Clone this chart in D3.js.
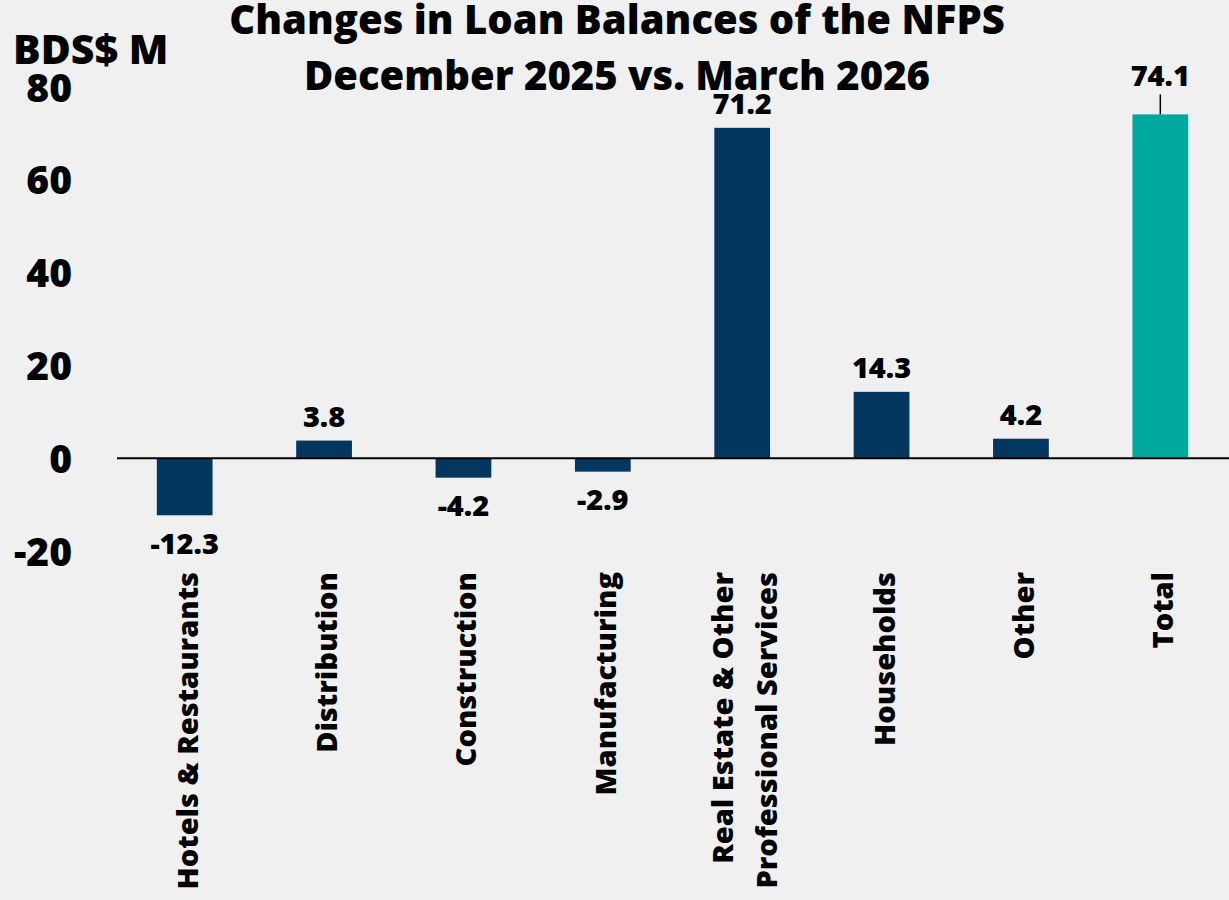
<!DOCTYPE html>
<html>
<head>
<meta charset="utf-8">
<script src="https://cdn.jsdelivr.net/npm/d3@7"></script>
<style>
  html, body { margin: 0; padding: 0; background: #f0f0f0; }
  svg { display: block; }
  text { font-family: "Open Sans", "Noto Sans", sans-serif; font-weight: 760; fill: #000; }
</style>
</head>
<body>
<svg id="chart" width="1229" height="900"></svg>
<script>
// Sector categories (second line of a label after "\n")
const categories = [
  "Hotels & Restaurants",
  "Distribution",
  "Construction",
  "Manufacturing",
  "Real Estate & Other\nProfessional Services",
  "Households",
  "Other",
  "Total"
];
// Change in loan balances, BDS$ millions
const changes = [-12.3, 3.8, -4.2, -2.9, 71.2, 14.3, 4.2, 74.1];
const yTicks = [-20, 0, 20, 40, 60, 80];
const titleLines = ["Changes in Loan Balances of the NFPS", "December 2025 vs. March 2026"];
const unitLabel = "BDS$ M";

const navy = "#03375f";
const teal = "#00a99e";

// plain hyphen for negatives
const fmt1 = v => d3.format(".1f")(v).replace("\u2212", "-");
const fmt0 = v => d3.format("d")(v).replace("\u2212", "-");

const svg = d3.select("#chart");

const x = d3.scaleBand()
  .domain(categories)
  .range([115, 1230])
  .paddingInner(0.6)
  .paddingOuter(0.3);

const y = d3.scaleLinear()
  .domain([-20, 80])
  .range([551, 87]);

// Y axis labels (no axis line)
const yAxis = d3.axisLeft(y).tickValues(yTicks).tickSize(0).tickPadding(0)
  .tickFormat(fmt0);
const gy = svg.append("g").attr("transform", "translate(72,0)").call(yAxis);
gy.select(".domain").remove();
gy.selectAll("text")
  .attr("text-anchor", "end")
  .attr("dy", "0.36em")
  .style("font-size", "39px")
  .style("font-family", "'Open Sans', sans-serif")
  .style("font-weight", 760)
  .attr("fill", "#000");

// Bars
svg.append("g").selectAll("rect")
  .data(categories)
  .join("rect")
  .attr("x", d => x(d))
  .attr("width", x.bandwidth())
  .attr("y", (d, i) => y(Math.max(0, changes[i])))
  .attr("height", (d, i) => Math.abs(y(changes[i]) - y(0)))
  .attr("fill", (d, i) => d === "Total" ? teal : navy);

// Zero line
svg.append("line")
  .attr("x1", x.range()[0] + 2).attr("x2", x.range()[1])
  .attr("y1", y(0)).attr("y2", y(0))
  .attr("stroke", "#000").attr("stroke-width", 2);

// Value labels
const labels = svg.append("g");
categories.forEach((c, i) => {
  const v = changes[i];
  const cx = x(c) + x.bandwidth() / 2;
  const isTotal = c === "Total";
  const lift = isTotal ? 28 : 14;
  const ty = v >= 0 ? y(v) - lift : y(v) + 14;
  labels.append("text")
    .attr("x", cx)
    .attr("y", ty)
    .attr("text-anchor", "middle")
    .attr("dominant-baseline", v >= 0 ? "auto" : "hanging")
    .style("font-size", "29px")
    .text(fmt1(v));
  if (isTotal) {
    labels.append("line")
      .attr("x1", cx).attr("x2", cx)
      .attr("y1", y(v) - 20).attr("y2", y(v))
      .attr("stroke", "#000").attr("stroke-width", 1.5);
  }
});

// Category labels, rotated
const xl = svg.append("g");
categories.forEach(c => {
  const lines = c.split("\n");
  const cx = x(c) + x.bandwidth() / 2;
  const lh = 44;
  lines.forEach((ln, k) => {
    const off = (k - (lines.length - 1) / 2) * lh;
    xl.append("text")
      .attr("transform", `translate(${cx + off + 13},572) rotate(-90)`)
      .attr("text-anchor", "end")
      .style("font-size", "29px")
      .text(ln);
  });
});

// Title and unit
titleLines.forEach((t, k) => {
  svg.append("text")
    .attr("x", 617).attr("y", 34 + k * 56)
    .attr("text-anchor", "middle")
    .style("font-size", "40px")
    .text(t);
});
svg.append("text")
  .attr("x", 13).attr("y", 64)
  .style("font-size", "41px")
  .text(unitLabel);
</script>
</body>
</html>
